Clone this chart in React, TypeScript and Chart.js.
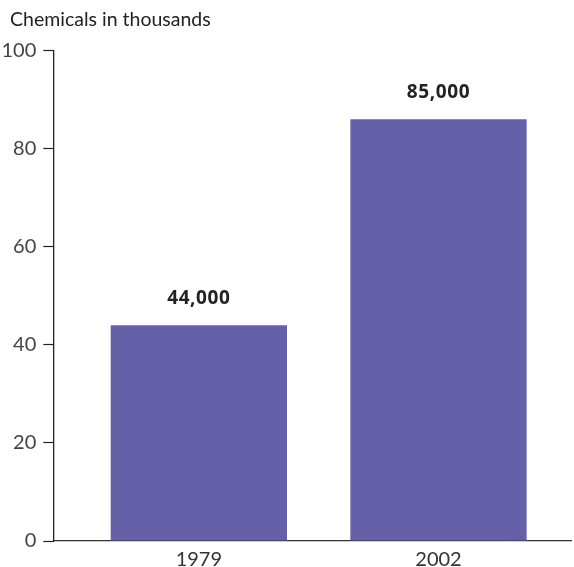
import React, { useEffect, useRef } from "react";
import { Chart, registerables } from "chart.js";

Chart.register(...registerables);

const categories = ["1979", "2002"];
const chemicals = [44, 86];
const valueLabels = ["44,000", "85,000"];
const yTicks = [0, 20, 40, 60, 80, 100];
const titleText = "Chemicals in thousands";

const barLabelPlugin = {
  id: "barLabels",
  afterDatasetsDraw(chart: any) {
    const ctx = chart.ctx;
    const meta = chart.getDatasetMeta(0);
    ctx.save();
    ctx.font = "bold 19px 'Open Sans'";
    ctx.fillStyle = "#222222";
    ctx.textAlign = "center";
    ctx.textBaseline = "middle";
    try { (ctx as any).letterSpacing = "0.6px"; } catch (e) {}
    meta.data.forEach((bar: any, i: number) => {
      ctx.fillText(valueLabels[i], bar.x, bar.y - 27);
    });
    ctx.restore();
  },
};

const titlePlugin = {
  id: "leftTitle",
  afterDraw(chart: any) {
    const ctx = chart.ctx;
    ctx.save();
    ctx.font = "19.5px Lato";
    ctx.fillStyle = "#222222";
    ctx.textAlign = "left";
    ctx.textBaseline = "middle";
    ctx.fillText(titleText, 10, 20);
    ctx.restore();
  },
};

export default function App() {
  const ref = useRef<HTMLCanvasElement>(null);
  useEffect(() => {
    document.body.style.margin = "0";
    if (!ref.current) return;
    const chart = new Chart(ref.current, {
      type: "bar",
      data: {
        datasets: [
          {
            data: categories.map((c, i) => ({ x: i, y: chemicals[i] })),
            backgroundColor: "#6660A8",
            borderWidth: 0,
            barPercentage: 0.7357,
            categoryPercentage: 1,
          },
        ],
      },
      plugins: [barLabelPlugin, titlePlugin],
      options: {
        animation: false,
        responsive: false,
        layout: { padding: { left: 0, right: 3, top: 50.7, bottom: 0 } },
        plugins: {
          legend: { display: false },
          tooltip: { enabled: false },
          title: { display: false },
        },
        scales: {
          x: {
            type: "linear",
            offset: false,
            min: -0.6073,
            max: 1.5529,
            grid: { display: false, drawTicks: false, tickLength: 0 },
            border: { display: true, color: "#333333", width: 1.3 },
            afterBuildTicks: (scale: any) => {
              scale.ticks = categories.map((_, i) => ({ value: i }));
            },
            afterFit: (scale: any) => {
              scale.height = 26;
            },
            ticks: {
              padding: 7,
              color: "#333333",
              font: { family: "Lato", size: 20 },
              callback: (v: any) => categories[v] ?? "",
              maxRotation: 0,
              autoSkip: false,
            },
          },
          y: {
            min: 0,
            max: 100,
            afterBuildTicks: (scale: any) => {
              scale.ticks = yTicks.map((v) => ({ value: v }));
            },
            afterFit: (scale: any) => {
              scale.width = 53.3;
            },
            grid: {
              drawOnChartArea: false,
              drawTicks: true,
              tickLength: 10,
              tickColor: "#222222",
              tickWidth: 1.2,
            },
            border: { display: true, color: "#222222", width: 1.3 },
            ticks: {
              padding: 7,
              color: "#444444",
              font: { family: "Lato", size: 20 },
            },
          },
        },
      },
    } as any);
    return () => chart.destroy();
  }, []);
  return (
    <div style={{ width: 574, height: 567 }}>
      <canvas ref={ref} width={574} height={567} />
    </div>
  );
}
